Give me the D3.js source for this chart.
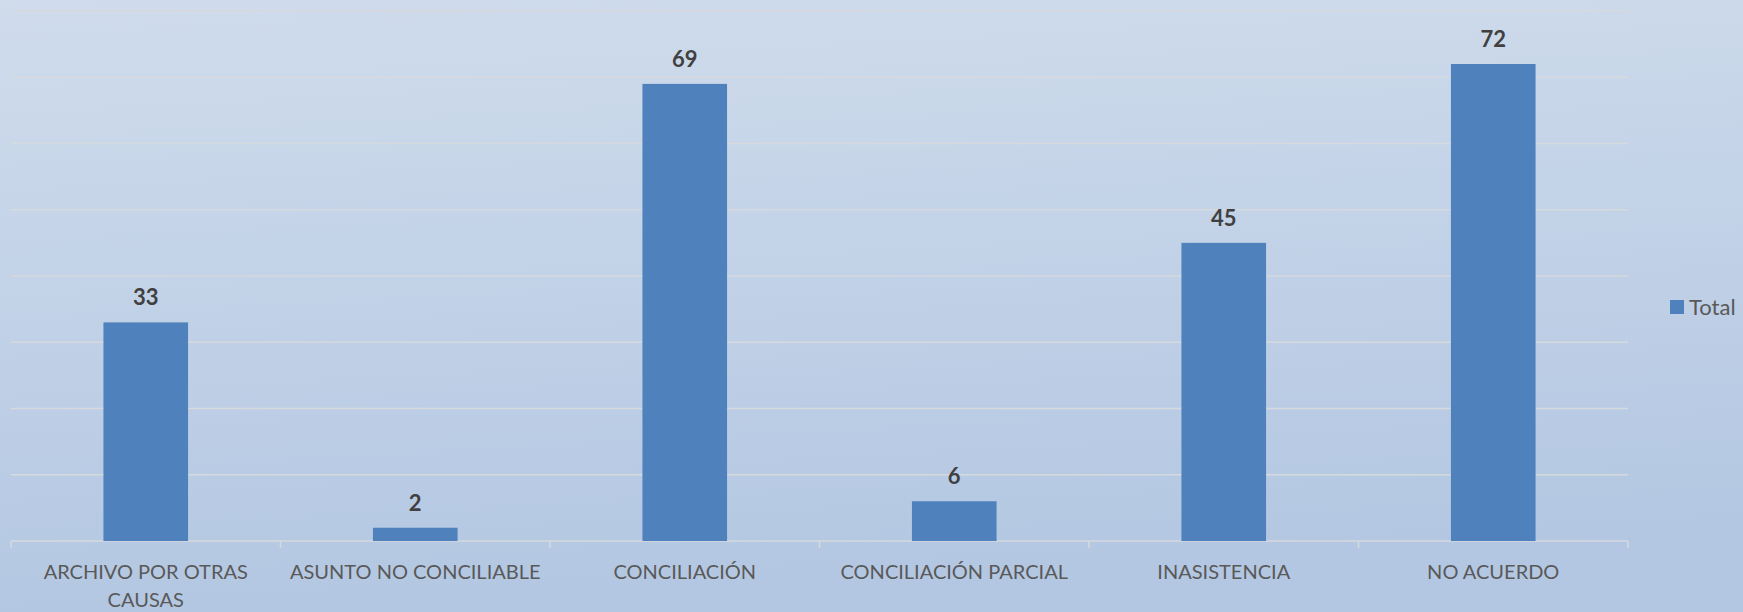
<!DOCTYPE html>
<html>
<head>
<meta charset="utf-8">
<script src="https://cdn.jsdelivr.net/npm/d3@7/dist/d3.min.js"></script>
<style>
  html, body { margin: 0; padding: 0; overflow: hidden; }
  svg { display: block; }
  text { font-family: Lato, "Open Sans", sans-serif; }
</style>
</head>
<body>
<script>
var width = 1743,
    height = 612;

// chart data
var categories = [
    ["ARCHIVO POR OTRAS", "CAUSAS"],
    ["ASUNTO NO CONCILIABLE"],
    ["CONCILIACIÓN"],
    ["CONCILIACIÓN PARCIAL"],
    ["INASISTENCIA"],
    ["NO ACUERDO"]
];
var totals = [33, 2, 69, 6, 45, 72];
var yTicks = [0, 10, 20, 30, 40, 50, 60, 70, 80];
var seriesName = "Total";

var svg = d3.select("body")
    .append("svg")
    .attr("width", width)
    .attr("height", height);

// background gradient
var grad = svg.append("defs")
    .append("linearGradient")
    .attr("id", "bg")
    .attr("x1", 0).attr("y1", 0)
    .attr("x2", 0.15).attr("y2", 1);
grad.append("stop").attr("offset", "0%").attr("stop-color", "#d0dcec");
grad.append("stop").attr("offset", "100%").attr("stop-color", "#b3c7e2");

svg.append("rect")
    .attr("width", width)
    .attr("height", height)
    .attr("fill", "url(#bg)");

var plot = { left: 11, right: 1628, top: 11, bottom: 541 };

var x = d3.scaleBand()
    .domain(d3.range(categories.length))
    .range([plot.left, plot.right])
    .paddingInner(0.686)
    .paddingOuter(0.343);

var xEdges = d3.scaleLinear()
    .domain([0, categories.length])
    .range([plot.left, plot.right]);

var y = d3.scaleLinear()
    .domain([0, 80])
    .range([plot.bottom, plot.top]);

// gridlines
svg.append("g")
    .selectAll("line")
    .data(yTicks)
    .enter().append("line")
    .attr("x1", plot.left)
    .attr("x2", plot.right)
    .attr("y1", function (d) { return y(d); })
    .attr("y2", function (d) { return y(d); })
    .attr("stroke", "#d6d9de")
    .attr("stroke-width", 1.5);

// category tick marks
svg.append("g")
    .selectAll("line")
    .data(d3.range(categories.length + 1))
    .enter().append("line")
    .attr("x1", function (d) { return xEdges(d); })
    .attr("x2", function (d) { return xEdges(d); })
    .attr("y1", plot.bottom)
    .attr("y2", plot.bottom + 7)
    .attr("stroke", "#d6d9de")
    .attr("stroke-width", 1.5);

// bars
svg.append("g")
    .selectAll("rect")
    .data(totals)
    .enter().append("rect")
    .attr("x", function (d, i) { return x(i); })
    .attr("width", x.bandwidth())
    .attr("y", function (d) { return y(d); })
    .attr("height", function (d) { return y(0) - y(d); })
    .attr("fill", "#4f81bd");

// value labels
svg.append("g")
    .selectAll("text")
    .data(totals)
    .enter().append("text")
    .attr("x", function (d, i) { return x(i) + x.bandwidth() / 2; })
    .attr("y", function (d) { return y(d) - 17; })
    .attr("text-anchor", "middle")
    .attr("font-size", 22)
    .attr("font-weight", "bold")
    .attr("fill", "#404040")
    .text(function (d) { return d; });

// category labels
var labels = svg.append("g")
    .selectAll("text")
    .data(categories)
    .enter().append("text")
    .attr("x", function (d, i) { return x(i) + x.bandwidth() / 2; })
    .attr("y", 579)
    .attr("text-anchor", "middle")
    .attr("font-size", 20)
    .attr("fill", "#595959");

labels.selectAll("tspan")
    .data(function (d) { return d; })
    .enter().append("tspan")
    .attr("x", function () { return d3.select(this.parentNode).attr("x"); })
    .attr("dy", function (d, i) { return i ? 28 : 0; })
    .text(function (d) { return d; });

// legend
var legend = svg.append("g");
legend.append("rect")
    .attr("x", 1670)
    .attr("y", 300)
    .attr("width", 14)
    .attr("height", 14)
    .attr("fill", "#4f81bd");
legend.append("text")
    .attr("x", 1689)
    .attr("y", 315)
    .attr("font-size", 22)
    .attr("fill", "#595959")
    .text(seriesName);
</script>
</body>
</html>
